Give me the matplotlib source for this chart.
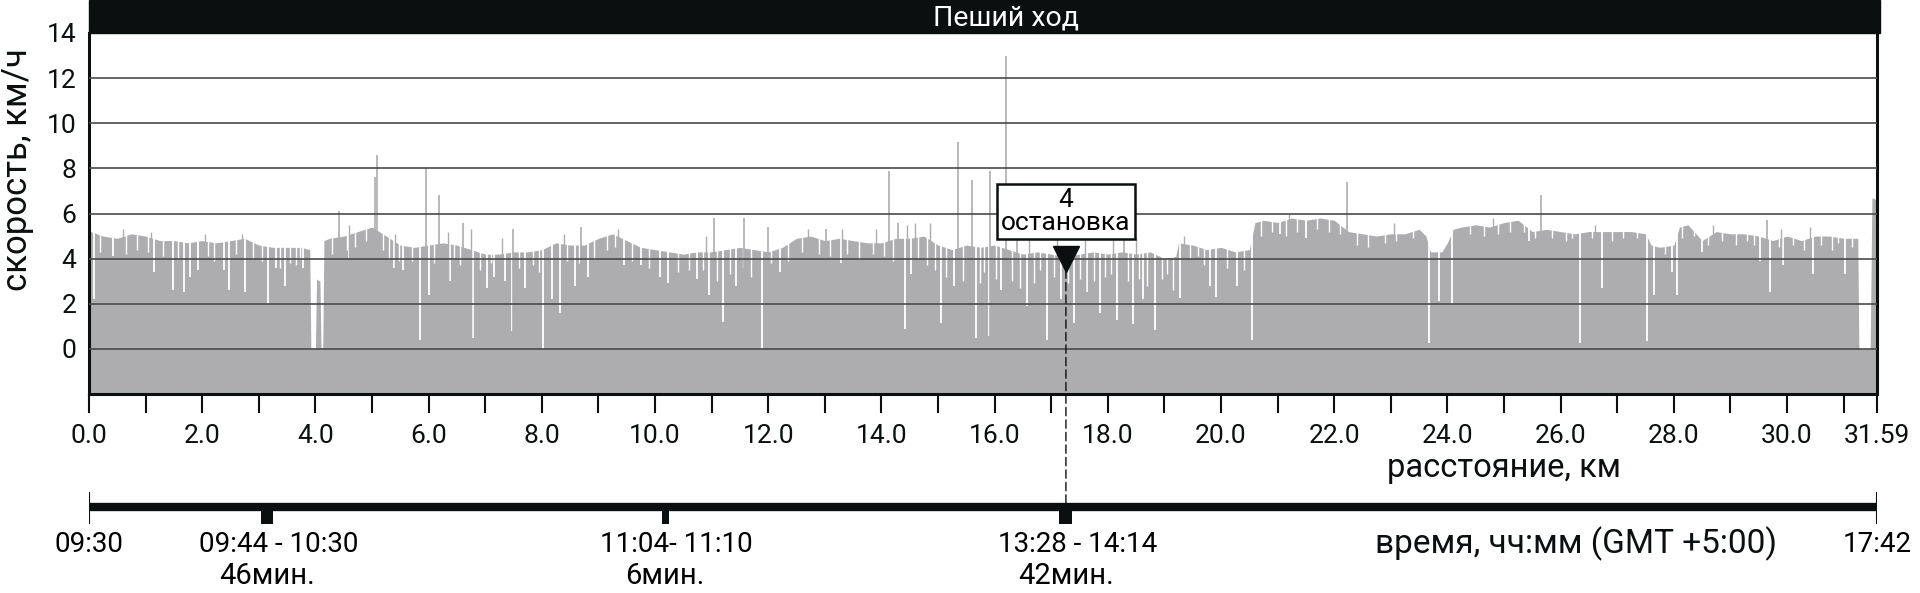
import matplotlib.pyplot as plt
import numpy as np
from matplotlib.patches import Rectangle, ConnectionPatch

plt.rcParams['font.family'] = ['Roboto', 'DejaVu Sans']

# огибающая скорости: расстояние (км) -> скорость (км/ч)
dist = [0.0, 0.03, 0.25, 0.5, 0.75, 1.0, 1.25, 1.5, 1.75, 2.0, 2.25, 2.5, 2.75,
        3.0, 3.25, 3.5, 3.75, 3.9, 3.92, 4.0, 4.02, 4.08, 4.1, 4.13, 4.15,
        4.25, 4.5, 4.75, 5.0, 5.25, 5.5, 5.75, 6.0, 6.25, 6.5, 6.75, 7.0,
        7.25, 7.5, 7.75, 8.0, 8.25, 8.5, 8.75, 9.0, 9.25, 9.5, 9.75, 10.0,
        10.25, 10.5, 10.75, 11.0, 11.25, 11.5, 11.75, 12.0, 12.25, 12.5,
        12.75, 13.0, 13.25, 13.5, 13.75, 14.0, 14.25, 14.5, 14.75, 15.0,
        15.25, 15.5, 15.75, 16.0, 16.25, 16.5, 16.75, 17.0, 17.25, 17.5,
        17.75, 18.0, 18.25, 18.5, 18.75, 19.0, 19.2, 19.25, 19.5, 19.75,
        20.0, 20.25, 20.5, 20.6, 20.75, 21.0, 21.25, 21.5, 21.75, 22.0,
        22.25, 22.5, 22.75, 23.0, 23.25, 23.5, 23.62, 23.7, 23.9, 24.0,
        24.1, 24.25, 24.5, 24.75, 25.0, 25.25, 25.5, 25.75, 26.0, 26.25,
        26.5, 26.75, 27.0, 27.25, 27.5, 27.6, 27.75, 28.0, 28.1, 28.25,
        28.5, 28.75, 29.0, 29.25, 29.5, 29.75, 30.0, 30.25, 30.5, 30.75,
        31.0, 31.25, 31.27, 31.47, 31.5, 31.59]
speed = [6.0, 5.2, 5.0, 4.9, 5.1, 5.0, 4.8, 4.8, 4.7, 4.8, 4.7, 4.8, 4.9,
         4.6, 4.5, 4.5, 4.5, 4.4, 0.0, 0.0, 3.1, 3.0, 0.0, 0.0, 4.8,
         4.9, 5.0, 5.2, 5.4, 5.0, 4.6, 4.5, 4.6, 4.7, 4.6, 4.4, 4.2,
         4.2, 4.3, 4.3, 4.4, 4.7, 4.6, 4.6, 4.9, 5.1, 4.8, 4.5, 4.4,
         4.3, 4.2, 4.3, 4.3, 4.4, 4.5, 4.4, 4.3, 4.5, 4.9,
         5.0, 4.8, 4.9, 4.8, 4.7, 4.7, 4.9, 4.9, 5.0, 4.6,
         4.4, 4.6, 4.5, 4.6, 4.4, 4.2, 4.3, 4.2, 4.1, 4.2,
         4.3, 4.2, 4.3, 4.2, 4.3, 4.0, 4.1, 4.7, 4.6, 4.4,
         4.5, 4.3, 4.4, 5.6, 5.7, 5.6, 5.8, 5.7, 5.8, 5.7,
         5.2, 5.1, 5.0, 5.1, 5.1, 5.3, 5.0, 4.3, 4.3, 4.7,
         5.3, 5.4, 5.5, 5.4, 5.6, 5.7, 5.2, 5.3, 5.2, 5.1,
         5.2, 5.2, 5.2, 5.2, 5.1, 4.6, 4.5, 4.6, 5.4, 5.5,
         4.8, 5.2, 5.1, 5.1, 5.0, 4.8, 5.0, 4.8, 5.0, 5.0,
         4.9, 4.9, 0.0, 0.0, 6.7, 6.6]

# короткие всплески скорости
spike_km = [4.42, 5.05, 5.09, 5.95, 6.19, 6.6, 7.49, 8.7, 11.05, 11.58,
            11.99, 13.02, 14.13, 14.3, 15.36, 15.6, 15.92, 16.21, 16.4,
            18.28, 22.23, 25.66, 29.65]
spike_v = [6.1, 7.6, 8.6, 8.0, 6.8, 5.6, 5.3, 5.4, 5.8, 5.8,
           5.4, 5.3, 7.9, 5.6, 9.15, 7.5, 7.9, 13.0, 5.5,
           4.9, 7.4, 6.8, 5.7]
small_spike_km = [0.6, 1.1, 2.05, 2.7, 4.6, 5.4, 6.35, 6.75, 7.3, 8.4, 9.35,
                  10.9, 12.7, 13.3, 13.9, 14.45, 14.6, 14.85, 16.6, 17.1,
                  17.6, 18.1, 18.5, 19.35, 21.2, 23.05, 24.8, 26.6, 28.7,
                  29.9, 30.4]
small_spike_v = [5.3, 5.2, 5.1, 5.1, 5.5, 5.1, 5.2, 5.3, 4.9, 5.1, 5.3,
                 5.0, 5.3, 5.3, 5.3, 5.5, 5.6, 5.6, 5.6, 5.4,
                 5.6, 5.1, 4.9, 5.0, 6.0, 5.6, 5.8, 5.5, 5.5,
                 5.3, 5.4]

# провалы скорости
dip_km = [0.09, 0.42, 1.14, 1.48, 1.67, 1.78, 1.92, 2.38, 2.48, 2.76, 3.17,
          3.30, 3.46, 3.78, 4.60, 5.39, 5.54, 5.85, 6.0, 6.37, 6.79, 7.04,
          7.16, 7.35, 7.47, 7.71, 8.02, 8.18, 8.32, 8.59, 8.82, 9.45, 9.75,
          10.08, 10.23, 10.75, 10.96, 11.20, 11.43, 11.89, 12.20, 13.28,
          14.41, 14.52, 15.06, 15.28, 15.67, 15.90, 16.11, 16.58, 16.93,
          17.17, 17.40, 17.64, 17.87, 18.16, 18.45, 18.63, 18.83, 19.28,
          19.80, 19.92, 20.28, 20.55, 21.04, 21.51, 23.67, 23.85, 24.09,
          25.44, 26.34, 26.74, 27.52, 27.65, 27.96, 28.05, 28.49, 29.52,
          29.70, 29.93, 30.46, 31.03]
dip_v = [2.2, 4.1, 3.4, 2.6, 2.5, 3.2, 3.5, 3.5, 2.6, 2.5, 2.0,
         3.6, 2.8, 3.6, 4.0, 3.6, 3.5, 0.4, 2.4, 3.0, 0.5, 2.7,
         3.2, 3.0, 0.8, 2.7, 0.0, 2.2, 1.6, 2.8, 3.2, 3.7, 3.7,
         3.2, 2.9, 3.1, 2.4, 1.2, 2.8, 0.0, 3.4, 3.8,
         0.9, 3.3, 1.15, 2.8, 0.5, 0.55, 2.6, 1.9, 0.4,
         2.2, 1.15, 2.5, 1.6, 1.3, 1.1, 2.2, 0.85, 2.25,
         2.8, 2.3, 2.8, 0.4, 5.1, 4.9, 0.25, 2.1, 2.0,
         4.8, 0.25, 2.7, 0.33, 2.4, 3.4, 2.4, 4.3, 3.9,
         2.5, 3.7, 3.3, 3.3]
small_dip_km = [0.2, 0.65, 0.85, 1.05, 1.3, 1.58, 2.1, 2.2, 2.6, 2.9, 3.05,
                3.38, 3.55, 3.65, 3.72, 4.3, 4.55, 4.7, 4.9, 5.2, 5.3, 5.48,
                5.7, 6.1, 6.45, 6.55, 6.9, 7.1, 7.6, 7.85, 7.95, 8.45, 8.65,
                8.92, 9.15, 9.3, 9.6, 9.9, 10.4, 10.6, 10.85, 11.1, 11.32,
                11.55, 11.7, 12.05, 12.35, 12.6, 12.9, 13.1, 13.4, 13.6,
                13.85, 14.05, 14.2, 14.65, 14.8, 14.95, 15.15, 15.45, 15.75,
                15.82, 16.02, 16.3, 16.45, 16.7, 16.8, 17.05, 17.3, 17.5,
                17.75, 17.95, 18.05, 18.35, 18.55, 18.7, 18.95, 19.05, 19.15,
                19.45, 19.6, 19.7, 20.1, 20.4, 20.7, 20.9, 21.15, 21.35,
                21.7, 21.9, 22.1, 22.4, 22.6, 22.9, 23.1, 23.4, 24.4, 24.65,
                24.9, 25.1, 25.35, 25.55, 25.85, 26.1, 26.2, 26.55, 26.9,
                27.1, 27.35, 27.85, 28.15, 28.35, 28.6, 28.85, 29.1, 29.3,
                29.42, 29.85, 30.1, 30.3, 30.6, 30.8, 30.9, 31.15]
small_dip_v = [4.3, 4.2, 4.4, 4.3, 4.1, 4.0, 4.1, 3.9, 4.2, 4.0, 3.9,
               3.6, 3.8, 3.7, 4.0, 4.2, 4.4, 4.5, 4.8, 4.4, 4.0, 3.9,
               3.9, 3.8, 4.0, 3.7, 3.5, 3.8, 3.6, 3.7, 3.4, 3.9, 3.8,
               4.0, 4.4, 4.5, 3.9, 3.6, 3.4, 3.5, 3.5, 3.0, 3.3,
               3.6, 3.2, 3.8, 3.9, 4.3, 4.2, 4.1, 4.2, 4.0,
               4.2, 4.1, 3.9, 4.0, 3.7, 3.5, 3.2, 3.0, 2.9,
               3.4, 3.1, 3.0, 2.7, 2.9, 3.5, 3.2, 2.9, 3.1,
               3.0, 3.2, 3.3, 3.0, 3.1, 2.8, 3.1, 3.3, 2.6,
               4.0, 4.1, 3.7, 3.6, 3.5, 5.0, 5.2, 5.0, 5.2,
               5.3, 5.2, 5.1, 4.6, 4.5, 4.7, 4.8, 4.9, 5.1, 5.0,
               5.1, 5.2, 5.2, 4.9, 4.9, 4.8, 4.9, 4.9, 4.8,
               4.9, 4.9, 4.2, 4.9, 5.0, 4.6, 4.8, 4.6, 4.8,
               4.6, 4.5, 4.6, 4.4, 4.6, 4.4, 4.7, 4.5]

total_km = 31.59
x_ticks = [0, 2, 4, 6, 8, 10, 12, 14, 16, 18, 20, 22, 24, 26, 28, 30, 31.59]
x_minor = [1, 3, 5, 7, 9, 11, 13, 15, 17, 19, 21, 23, 25, 27, 29, 31]
y_ticks = [0, 2, 4, 6, 8, 10, 12, 14]

# остановки на шкале времени
stop_km = [3.15, 10.18, 17.26]
stop_time = ['09:44 - 10:30', '11:04- 11:10', '13:28 - 14:14']
stop_len = ['46мин.', '6мин.', '42мин.']
t_start, t_end = '09:30', '17:42'
marked_km = 17.26
marked_label = '4\nостановка'

gray = '#adadaf'
black = '#0b0f10'
W, H = 1920, 593

fig = plt.figure(figsize=(19.2, 5.93), dpi=100)
ax = fig.add_axes([89 / W, 1 - 394 / H, 1788 / W, 361 / H])

ax.fill_between(dist, -2, speed, color=gray, lw=0, zorder=1)
ax.vlines(small_dip_km, small_dip_v, 14, color='white', lw=1.0, zorder=1.4)
ax.vlines(dip_km, dip_v, 14, color='white', lw=1.3, zorder=1.5)
ax.vlines(small_spike_km, 0, small_spike_v, color=gray, lw=1.0, zorder=1.6)
ax.vlines(spike_km, 0, spike_v, color=gray, lw=1.2, zorder=1.6)

ax.set_xlim(0, total_km)
ax.set_ylim(-2, 14)
ax.set_yticks(y_ticks)
ax.set_xticks(x_ticks)
ax.set_xticklabels([f'{v:.1f}' for v in x_ticks[:-1]] + [f'{total_km:.2f}'])
ax.set_xticks(x_minor, minor=True)
ax.tick_params(axis='x', which='both', length=13.5, width=1.5, direction='out',
               pad=8, labelsize=19, colors=black)
ax.tick_params(axis='y', length=0, pad=9, labelsize=19, colors=black)
ax.yaxis.grid(True, color='#4a4a4a', lw=1.2)
ax.set_axisbelow(False)
for s in ['left', 'right', 'bottom']:
    ax.spines[s].set_linewidth(2.2)
    ax.spines[s].set_color(black)
ax.spines['top'].set_visible(False)

# отметка остановки
ax.plot([marked_km], [4.0], marker='v', markersize=19, color=black, zorder=6,
        clip_on=False)
ax.text(marked_km, 6.1, marked_label, ha='center', va='center', fontsize=19,
        linespacing=0.95, zorder=7,
        bbox=dict(boxstyle='square,pad=0.15', fc='white', ec=black, lw=1.8))

# заголовок
fig.add_artist(Rectangle((89 / W, 1 - 33 / H), 1791 / W, 33 / H,
                         transform=fig.transFigure, color=black))
fig.text(1006 / W, 1 - 18 / H, 'Пеший ход', color='white', fontsize=20.5,
         ha='center', va='center')

fig.text(18 / W, 1 - 170 / H, 'скорость, км/ч', rotation=90, fontsize=25,
         ha='center', va='center', color=black)
fig.text(1504 / W, 1 - 468 / H, 'расстояние, км', fontsize=23.5,
         ha='center', va='center', color=black)

# шкала времени
ax2 = fig.add_axes([89 / W, 1 - 530 / H, 1788 / W, 40 / H])
ax2.set_xlim(0, total_km)
ax2.set_ylim(0, 1)
ax2.axis('off')
ax2.hlines(0.575, 0, total_km, color=black, lw=6)
ax2.vlines([0, total_km], 0.15, 0.95, color=black, lw=1.5)
ax2.bar(stop_km, 0.45, bottom=0.15, width=[0.21, 0.12, 0.23], color=black)

ax2.text(0, -0.35, t_start, ha='center', va='center', fontsize=20)
ax2.text(total_km, -0.35, t_end, ha='center', va='center', fontsize=20)
for k, t, d in zip(stop_km, stop_time, stop_len):
    ax2.text(k + 0.2, -0.35, t, ha='center', va='center', fontsize=20)
    ax2.text(k, -1.15, d, ha='center', va='center', fontsize=21)
fig.text(1576 / W, 1 - 544 / H, 'время, чч:мм (GMT +5:00)', fontsize=24,
         ha='center', va='center', color=black)

con = ConnectionPatch(xyA=(marked_km, 3.5), coordsA=ax.transData,
                      xyB=(marked_km, 0.575), coordsB=ax2.transData,
                      color=black, lw=1, ls=(0, (6, 3)), zorder=5)
fig.add_artist(con)

fig.savefig('out.png', dpi=100)
